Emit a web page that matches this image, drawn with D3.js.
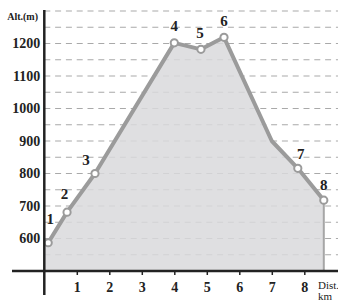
<!DOCTYPE html>
<html>
<head>
<meta charset="utf-8">
<script src="https://cdn.jsdelivr.net/npm/d3@7"></script>
<style>
  html, body { margin: 0; padding: 0; background: #fff; }
  svg { display: block; }
  text { font-family: "Liberation Serif", "Times New Roman", serif; }
</style>
</head>
<body>
<div id="chart"></div>
<script>
// profile vertices (km, metres); "" = corner without a numbered stop
var profileKm  = [0.12, 0.7, 1.56, 4.0, 4.82, 5.53, 7.0, 7.8, 8.6];
var profileAlt = [587, 681, 800, 1202, 1182, 1219, 900, 816, 718];
var stopLabels = ["1", "2", "3", "4", "5", "6", "", "7", "8"];

var yTicks = [600, 700, 800, 900, 1000, 1100, 1200];
var gridValues = [550, 600, 650, 700, 750, 800, 850, 900, 950, 1000, 1050, 1100, 1150, 1200, 1250, 1300];
var xTicks = [1, 2, 3, 4, 5, 6, 7, 8];

var W = 338, H = 302;

var svg = d3.select('#chart')
    .append('svg')
    .attr('width', W)
    .attr('height', H);

// same scale on both axes: 32.5px per km / per 100 m
var x = d3.scaleLinear().domain([0, 9]).range([44.3, 44.3 + 9 * 32.5]);
var y = d3.scaleLinear().domain([500, 1300]).range([271, 11]);

var data = profileKm.map(function (k, i) {
    return { km: k, alt: profileAlt[i], label: stopLabels[i] };
});
var last = data[data.length - 1];

// dashed gridlines
svg.append('g')
    .selectAll('line')
    .data(gridValues)
    .join('line')
    .attr('x1', x(0))
    .attr('x2', W)
    .attr('y1', function (d) { return y(d); })
    .attr('y2', function (d) { return y(d); })
    .attr('stroke', '#a9a9a9')
    .attr('stroke-width', 1.2)
    .attr('stroke-dasharray', '6,4.8');

// shaded area under the profile
var areaData = [{ km: 0, alt: data[0].alt }].concat(data);
svg.append('path')
    .datum(areaData)
    .attr('fill', '#d9d9dc')
    .attr('fill-opacity', 0.85)
    .attr('d', d3.area()
        .x(function (d) { return x(d.km); })
        .y0(y(500))
        .y1(function (d) { return y(d.alt); }));

// drop line at the finish
svg.append('line')
    .attr('x1', x(last.km))
    .attr('x2', x(last.km))
    .attr('y1', y(last.alt))
    .attr('y2', y(500))
    .attr('stroke', '#a6a6a6')
    .attr('stroke-width', 2);

// profile line
svg.append('path')
    .datum(data)
    .attr('fill', 'none')
    .attr('stroke', '#9b9b9b')
    .attr('stroke-width', 4)
    .attr('stroke-linejoin', 'round')
    .attr('d', d3.line()
        .x(function (d) { return x(d.km); })
        .y(function (d) { return y(d.alt); }));

var stops = data.filter(function (d) { return d.label !== ''; });

svg.append('g')
    .selectAll('circle')
    .data(stops)
    .join('circle')
    .attr('cx', function (d) { return x(d.km); })
    .attr('cy', function (d) { return y(d.alt); })
    .attr('r', 3.6)
    .attr('fill', '#fff')
    .attr('stroke', '#9b9b9b')
    .attr('stroke-width', 2);

// label nudges so numbers clear the line
var labelDx = [2, -2.5, -9, 0, -1, 0, 3, 0];
var labelDy = [-24, -18, -14, -17, -16.5, -16.5, -15, -15];

svg.append('g')
    .selectAll('text')
    .data(stops)
    .join('text')
    .attr('x', function (d, i) { return x(d.km) + labelDx[i]; })
    .attr('y', function (d, i) { return y(d.alt) + labelDy[i]; })
    .attr('dy', '0.35em')
    .attr('text-anchor', 'middle')
    .attr('font-size', '15px')
    .attr('font-weight', 'bold')
    .attr('fill', '#222')
    .text(function (d) { return d.label; });

// y axis labels
var yAxis = svg.append('g')
    .attr('transform', 'translate(' + x(0) + ',0)')
    .call(d3.axisLeft(y).tickValues(yTicks).tickSize(0).tickPadding(4).tickFormat(d3.format('d')));
yAxis.select('.domain').remove();
yAxis.selectAll('text')
    .attr('font-family', '"Liberation Serif", serif')
    .attr('font-size', '14px')
    .attr('font-weight', 'bold')
    .attr('fill', '#222');

// x axis ticks + labels
var xAxis = svg.append('g')
    .attr('transform', 'translate(0,' + y(500) + ')')
    .call(d3.axisBottom(x).tickValues(xTicks).tickSize(4).tickPadding(7).tickFormat(d3.format('d')));
xAxis.select('.domain').remove();
xAxis.selectAll('line').attr('stroke', '#222').attr('stroke-width', 1.5);
xAxis.selectAll('text')
    .attr('font-family', '"Liberation Serif", serif')
    .attr('font-size', '14px')
    .attr('font-weight', 'bold')
    .attr('fill', '#222');

// axis lines
svg.append('line')
    .attr('x1', 12).attr('x2', W)
    .attr('y1', y(500)).attr('y2', y(500))
    .attr('stroke', '#222').attr('stroke-width', 2.5);
svg.append('line')
    .attr('x1', x(0)).attr('x2', x(0))
    .attr('y1', y(1300) - 1).attr('y2', 295)
    .attr('stroke', '#222').attr('stroke-width', 2.5);

// axis titles
svg.append('text')
    .attr('x', 38).attr('y', 20)
    .attr('text-anchor', 'end')
    .attr('font-size', '10px')
    .attr('font-weight', 'bold')
    .attr('fill', '#222')
    .text('Alt.(m)');
svg.append('text')
    .attr('x', 318).attr('y', 289)
    .attr('font-size', '11px')
    .attr('fill', '#222')
    .text('Dist.');
svg.append('text')
    .attr('x', 318).attr('y', 300)
    .attr('font-size', '11px')
    .attr('fill', '#222')
    .text('km');
</script>
</body>
</html>
